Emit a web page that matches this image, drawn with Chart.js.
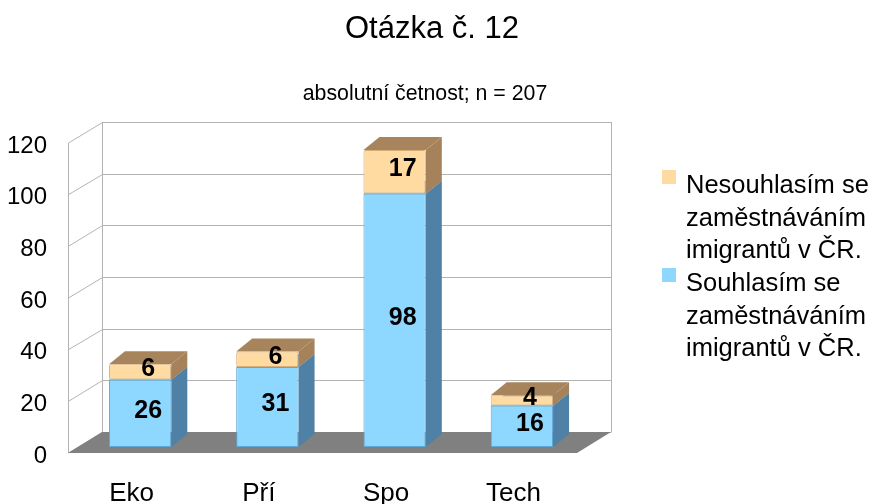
<!DOCTYPE html>
<html>
<head>
<meta charset="utf-8">
<script src="https://cdn.jsdelivr.net/npm/chart.js@4"></script>
<style>
html,body{margin:0;padding:0;background:#fff;}
#wrap{position:relative;width:875px;height:504px;}
</style>
</head>
<body>
<div id="wrap"><canvas id="c" width="875" height="504"></canvas></div>
<script>
// ---- data ----
const categories = ['Eko', 'Pří', 'Spo', 'Tech'];
const souhlasim = [26, 31, 98, 16];
const nesouhlasim = [6, 6, 17, 4];
const seriesNames = ['Souhlasím se zaměstnáváním imigrantů v ČR.', 'Nesouhlasím se zaměstnáváním imigrantů v ČR.'];
const legendLines = [
  ['Nesouhlasím se', 'zaměstnáváním', 'imigrantů v ČR.'],
  ['Souhlasím se', 'zaměstnáváním', 'imigrantů v ČR.']
];
const titleText = 'Otázka č. 12';
const subtitleText = 'absolutní četnost; n = 207';
const yMin = 0, yMax = 120, yStep = 20;

// ---- style ----
const FONT = '"Liberation Sans", Arial, sans-serif';
const BLUE = '#8ed8ff', BLUE_BORDER = '#5ea6d6', BLUE_SIDE = '#4f80a6', BLUE_TOP = '#6fa8cc';
const ORANGE = '#ffdba2', ORANGE_BORDER = '#d8ae78', ORANGE_SIDE = '#a6825a', ORANGE_TOP = '#a8845c';
const GRID = '#b3b3b3', FLOOR = '#808080';
const WALL_DX = 34, WALL_DY = 21;   // room depth
const BAR_OX = 8.5, BAR_OY = -6;    // bar plane offset
const BAR_DX = 16, BAR_DY = 13;     // bar depth

const sideColors = [[BLUE_SIDE, BLUE_TOP], [ORANGE_SIDE, ORANGE_TOP]];

const room3d = {
  id: 'room3d',
  beforeDatasetsDraw(chart) {
    const ctx = chart.ctx, a = chart.chartArea, ys = chart.scales.y;
    ctx.save();
    ctx.strokeStyle = GRID; ctx.lineWidth = 1;
    const bl = Math.round(a.left + WALL_DX) + 0.5;
    const br = Math.round(a.right + WALL_DX) + 0.5;
    for (let v = yMin; v <= yMax; v += yStep) {
      const y = ys.getPixelForValue(v);
      const yb = Math.round(y - WALL_DY) + 0.5;
      ctx.beginPath();
      ctx.moveTo(a.left + 0.5, y);
      ctx.lineTo(bl, yb);
      ctx.lineTo(br, yb);
      ctx.stroke();
    }
    const yTopF = ys.getPixelForValue(yMax), yBotF = ys.getPixelForValue(yMin);
    ctx.beginPath();
    ctx.moveTo(a.left + 0.5, yTopF); ctx.lineTo(a.left + 0.5, yBotF);
    ctx.moveTo(bl, yTopF - WALL_DY); ctx.lineTo(bl, yBotF - WALL_DY);
    ctx.moveTo(br, yTopF - WALL_DY); ctx.lineTo(br, yBotF - WALL_DY);
    ctx.stroke();
    ctx.fillStyle = FLOOR;
    ctx.beginPath();
    ctx.moveTo(a.left, yBotF);
    ctx.lineTo(a.right, yBotF);
    ctx.lineTo(a.right + WALL_DX, yBotF - WALL_DY);
    ctx.lineTo(a.left + WALL_DX, yBotF - WALL_DY);
    ctx.closePath();
    ctx.fill();
    ctx.restore();

    ctx.save();
    ctx.translate(BAR_OX, BAR_OY);
    chart.data.datasets.forEach((ds, di) => {
      const meta = chart.getDatasetMeta(di);
      meta.data.forEach(el => {
        const p = el.getProps(['x', 'y', 'base', 'width'], true);
        const x1 = p.x - p.width / 2, x2 = p.x + p.width / 2;
        const top = Math.min(p.y, p.base), bot = Math.max(p.y, p.base);
        ctx.fillStyle = sideColors[di][0];
        ctx.beginPath();
        ctx.moveTo(x2, bot); ctx.lineTo(x2 + BAR_DX, bot - BAR_DY);
        ctx.lineTo(x2 + BAR_DX, top - BAR_DY); ctx.lineTo(x2, top);
        ctx.closePath(); ctx.fill();
        ctx.fillStyle = sideColors[di][1];
        ctx.beginPath();
        ctx.moveTo(x1, top); ctx.lineTo(x1 + BAR_DX, top - BAR_DY);
        ctx.lineTo(x2 + BAR_DX, top - BAR_DY); ctx.lineTo(x2, top);
        ctx.closePath(); ctx.fill();
      });
    });
  },
  afterDatasetsDraw(chart) {
    const ctx = chart.ctx;
    ctx.fillStyle = '#000';
    ctx.font = 'bold 25px ' + FONT;
    ctx.textAlign = 'center';
    ctx.textBaseline = 'middle';
    chart.data.datasets.forEach((ds, di) => {
      const meta = chart.getDatasetMeta(di);
      meta.data.forEach((el, i) => {
        const p = el.getProps(['x', 'y', 'base'], true);
        const cy = (p.y + p.base) / 2;
        ctx.fillText(String(ds.data[i]), p.x + BAR_DX / 2, cy - BAR_DY / 2 + 4);
      });
    });
    ctx.restore();
  },
  afterDraw(chart) {
    const ctx = chart.ctx;
    ctx.save();
    ctx.fillStyle = '#000';
    ctx.textBaseline = 'alphabetic';
    ctx.textAlign = 'center';
    ctx.font = '31px ' + FONT;
    ctx.fillText(titleText, 432, 38);
    ctx.font = '21.3px ' + FONT;
    ctx.fillText(subtitleText, 425, 100);
    ctx.textAlign = 'left';
    ctx.font = '25.5px ' + FONT;
    const boxColors = [ORANGE, BLUE];
    const baselines = [193, 291];
    legendLines.forEach((lines, k) => {
      ctx.fillStyle = boxColors[k];
      ctx.fillRect(662, baselines[k] - 23, 14, 14);
      ctx.fillStyle = '#000';
      lines.forEach((t, j) => ctx.fillText(t, 686, baselines[k] + j * 32.5));
    });
    ctx.restore();
  }
};

new Chart(document.getElementById('c'), {
  type: 'bar',
  data: {
    labels: categories,
    datasets: [
      { label: seriesNames[0], data: souhlasim, backgroundColor: BLUE, borderColor: BLUE_BORDER, borderWidth: 1, borderSkipped: false, borderRadius: 2 },
      { label: seriesNames[1], data: nesouhlasim, backgroundColor: ORANGE, borderColor: ORANGE_BORDER, borderWidth: 1, borderSkipped: false, borderRadius: 2 }
    ]
  },
  options: {
    responsive: false,
    animation: false,
    layout: { padding: { top: 143, right: 298, left: 0, bottom: 0 } },
    datasets: { bar: { categoryPercentage: 1, barPercentage: 0.49 } },
    plugins: { legend: { display: false }, title: { display: false }, tooltip: { enabled: false } },
    scales: {
      x: {
        stacked: true,
        grid: { display: false, drawTicks: false },
        border: { display: false },
        ticks: { color: '#000', font: { family: FONT, size: 26 }, padding: 25, maxRotation: 0 },
        afterFit(s) { s.height = 51; s.paddingLeft = 0; s.paddingRight = 0; }
      },
      y: {
        stacked: true,
        min: yMin, max: yMax,
        grid: { display: false, drawTicks: false },
        border: { display: false },
        ticks: { stepSize: yStep, color: '#000', font: { family: FONT, size: 24 }, padding: 21, labelOffset: 3 },
        afterFit(s) { s.width = 68; s.paddingTop = 0; s.paddingBottom = 0; }
      }
    }
  },
  plugins: [room3d]
});
</script>
</body>
</html>
